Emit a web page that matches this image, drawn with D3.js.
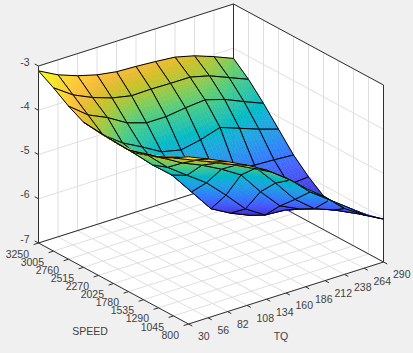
<!DOCTYPE html>
<html>
<head>
<meta charset="utf-8">
<script src="https://cdn.jsdelivr.net/npm/d3@7"></script>
<style>
html,body{margin:0;padding:0;background:#f0f0f0}
text{font-family:"Liberation Sans",Arial,sans-serif;font-size:10.5px;fill:#404040}
</style>
</head>
<body>
<svg id="chart" width="413" height="353"></svg>
<script>
const speedTicks = [800,1045,1290,1535,1780,2025,2270,2515,2760,3005,3250]
const tqTicks    = [30,56,82,108,134,160,186,212,238,264,290]
const zTicks     = [-3,-4,-5,-6,-7]

// one row per speed tick (800 first), one column per tq tick
const z800  = [-3.22,-3.41,-3.61,-3.83,-4.08,-4.40,-4.77,-5.11,-5.51,-5.80,-6.03]
const z1045 = [-3.43,-3.62,-3.80,-4.00,-4.22,-4.45,-4.77,-5.18,-5.50,-5.82,-6.14]
const z1290 = [-3.59,-3.74,-3.94,-4.15,-4.33,-4.54,-5.02,-5.53,-5.88,-6.05,-6.26]
const z1535 = [-3.69,-3.94,-4.19,-4.38,-4.61,-4.88,-5.40,-5.86,-6.07,-6.20,-6.26]
const z1780 = [-3.80,-4.06,-4.47,-4.79,-5.10,-5.52,-5.97,-6.25,-6.28,-6.39,-6.24]
const z2025 = [-3.78,-4.18,-4.60,-4.97,-5.49,-6.01,-6.25,-6.44,-6.10,-6.03,-5.99]
const z2270 = [-3.75,-4.17,-4.56,-4.92,-5.25,-5.50,-5.55,-5.55,-5.63,-5.65,-5.68]
const z2515 = [-3.72,-4.15,-4.47,-4.70,-4.95,-5.05,-4.96,-4.82,-4.98,-5.14,-5.28]
const z2760 = [-3.54,-3.88,-4.08,-4.34,-4.48,-4.48,-4.42,-4.38,-4.51,-4.70,-4.88]
const z3005 = [-3.31,-3.61,-3.81,-3.96,-4.05,-4.04,-4.05,-4.05,-4.16,-4.34,-4.52]
const z3250 = [-3.11,-3.34,-3.50,-3.62,-3.69,-3.71,-3.74,-3.78,-3.89,-4.05,-4.23]
const zRows = [z800,z1045,z1290,z1535,z1780,z2025,z2270,z2515,z2760,z3005,z3250]

// parula, every third entry
const parula = [
	[.2422,.1504,.6603],[.2647,.1978,.7952],[.2783,.2559,.8991],[.2810,.3228,.9579],
	[.2699,.3892,.9906],[.2206,.4603,.9973],[.1786,.5289,.9682],[.1540,.5902,.9218],
	[.1248,.6459,.8883],[.0689,.6948,.8394],[.0067,.7312,.7660],[.1408,.7584,.6842],
	[.2161,.7843,.5923],[.3406,.8008,.4789],[.5044,.7993,.3480],[.6720,.7793,.2227],
	[.8203,.7498,.1535],[.9393,.7288,.2100],[.9970,.7659,.2199],[.9786,.8386,.1766],
	[.9597,.9135,.1423],[.9769,.9839,.0805]
].map(c => d3.rgb(c[0]*255,c[1]*255,c[2]*255))

const zMin = d3.min(zRows,r => d3.min(r))
const zMax = d3.max(zRows,r => d3.max(r))
const color = d3.scaleLinear()
	.domain(parula.map((c,i) => zMin + (zMax-zMin)*i/(parula.length-1)))
	.range(parula)
	.interpolate(d3.interpolateRgb)

// oblique box: each axis maps to a screen vector, origin is the front floor corner
const speedX = d3.scaleLinear().domain([800,3250]).range([0,-150])
const speedY = d3.scaleLinear().domain([800,3250]).range([0,-81])
const tqX    = d3.scaleLinear().domain([30,290]).range([0,195])
const tqY    = d3.scaleLinear().domain([30,290]).range([0,-62])
const zY     = d3.scaleLinear().domain([-7,-3]).range([0,-177])
const ox = 188.5, oy = 324

function P(s,t,z){
	return [ox + speedX(s) + tqX(t), oy + speedY(s) + tqY(t) + zY(z)]
}

const svg  = d3.select("#chart")
const line = d3.line()

const sMin = speedTicks[0], sMax = speedTicks[10]
const tMin = tqTicks[0],    tMax = tqTicks[10]

// walls and floor
const walls = svg.append("g")
walls.append("path")
	.attr("fill","#fff")
	.attr("d",line([P(sMin,tMin,-7),P(sMax,tMin,-7),P(sMax,tMin,-3),P(sMax,tMax,-3),P(sMin,tMax,-3),P(sMin,tMax,-7)])+"Z")

const grid = []
tqTicks.forEach(t => {
	grid.push([P(sMax,t,-7),P(sMax,t,-3)])
	grid.push([P(sMin,t,-7),P(sMax,t,-7)])
})
speedTicks.forEach(s => {
	grid.push([P(s,tMax,-7),P(s,tMax,-3)])
	grid.push([P(s,tMin,-7),P(s,tMax,-7)])
})
zTicks.forEach(z => {
	grid.push([P(sMax,tMin,z),P(sMax,tMax,z)])
	grid.push([P(sMax,tMax,z),P(sMin,tMax,z)])
})
walls.selectAll(".grid").data(grid).enter().append("path")
	.attr("class","grid")
	.attr("d",d => line(d))
	.attr("fill","none")
	.attr("stroke","#dfdfdf")
	.attr("stroke-width",1)

const boxEdges = [
	[P(sMax,tMin,-7),P(sMax,tMin,-3)],
	[P(sMax,tMin,-3),P(sMax,tMax,-3)],
	[P(sMax,tMax,-3),P(sMin,tMax,-3)],
	[P(sMin,tMax,-3),P(sMin,tMax,-7)],
	[P(sMax,tMax,-7),P(sMax,tMax,-3)],
	[P(sMax,tMin,-7),P(sMax,tMax,-7)],
	[P(sMax,tMax,-7),P(sMin,tMax,-7)],
	[P(sMax,tMin,-7),P(sMin,tMin,-7)],
	[P(sMin,tMin,-7),P(sMin,tMax,-7)]
]
walls.selectAll(".edge").data(boxEdges).enter().append("path")
	.attr("class","edge")
	.attr("d",d => line(d))
	.attr("fill","none")
	.attr("stroke","#303030")
	.attr("stroke-width",1)

// tick marks point away from the box
const ticks = []
speedTicks.forEach(s => ticks.push([P(s,tMin,-7),[P(s,tMin,-7)[0]-4.9,P(s,tMin,-7)[1]+1.6]]))
tqTicks.forEach(t => ticks.push([P(sMin,t,-7),[P(sMin,t,-7)[0]+3.8,P(sMin,t,-7)[1]+2]]))
zTicks.forEach(z => ticks.push([P(sMax,tMin,z),[P(sMax,tMin,z)[0]-3.8,P(sMax,tMin,z)[1]-2]]))
walls.selectAll(".tick").data(ticks).enter().append("path")
	.attr("class","tick")
	.attr("d",d => line(d))
	.attr("stroke","#303030")
	.attr("stroke-width",1)

// surface, painted from the back corner forward so the near fold covers the far sheet
const nSub = 6
const zAt = (i,j,u,v) => {
	return zRows[i][j]*(1-u)*(1-v) + zRows[i-1][j]*u*(1-v)
		 + zRows[i][j+1]*(1-u)*v  + zRows[i-1][j+1]*u*v
}
const surface = svg.append("g")
for(let i=10;i>=1;i--){
	for(let j=9;j>=0;j--){
		const cell = surface.append("g")
		const s0 = speedTicks[i], s1 = speedTicks[i-1], t0 = tqTicks[j], t1 = tqTicks[j+1]
		const corner = (u,v) => P(s0+(s1-s0)*u, t0+(t1-t0)*v, zAt(i,j,u,v))
		const facets = []
		for(let a=0;a<nSub;a++){
			for(let b=nSub-1;b>=0;b--){
				const u0=a/nSub,u1=(a+1)/nSub,v0=b/nSub,v1=(b+1)/nSub
				facets.push({
					pts:[corner(u0,v0),corner(u1,v0),corner(u1,v1),corner(u0,v1)],
					z:zAt(i,j,(u0+u1)/2,(v0+v1)/2)
				})
			}
		}
		cell.selectAll("path").data(facets).enter().append("path")
			.attr("d",d => line(d.pts)+"Z")
			.attr("fill",d => color(d.z))
			.attr("stroke",d => color(d.z))
			.attr("stroke-width",0.5)
		cell.append("path")
			.attr("d",line([corner(0,0),corner(1,0),corner(1,1),corner(0,1)])+"Z")
			.attr("fill","none")
			.attr("stroke","#000")
			.attr("stroke-width",1)
			.attr("stroke-linejoin","round")
	}
}

// tick labels
svg.selectAll(".slabel").data(speedTicks).enter().append("text")
	.attr("class","slabel")
	.attr("x",d => P(d,tMin,-7)[0]-9.5)
	.attr("y",d => P(d,tMin,-7)[1]+11)
	.attr("dy","0.35em")
	.attr("text-anchor","end")
	.text(d => d)
svg.selectAll(".tlabel").data(tqTicks).enter().append("text")
	.attr("class","tlabel")
	.attr("x",d => P(sMin,d,-7)[0]+9.5)
	.attr("y",d => P(sMin,d,-7)[1]+12.7)
	.attr("dy","0.35em")
	.text(d => d)
svg.selectAll(".zlabel").data(zTicks).enter().append("text")
	.attr("class","zlabel")
	.attr("x",d => P(sMax,tMin,d)[0]-9)
	.attr("y",d => P(sMax,tMin,d)[1]-4)
	.attr("dy","0.35em")
	.attr("text-anchor","end")
	.text(d => d)

svg.append("text").attr("x",90).attr("y",331).attr("dy","0.35em").attr("text-anchor","middle").text("SPEED")
svg.append("text").attr("x",281).attr("y",336).attr("dy","0.35em").attr("text-anchor","middle").text("TQ")
</script>
</body>
</html>
